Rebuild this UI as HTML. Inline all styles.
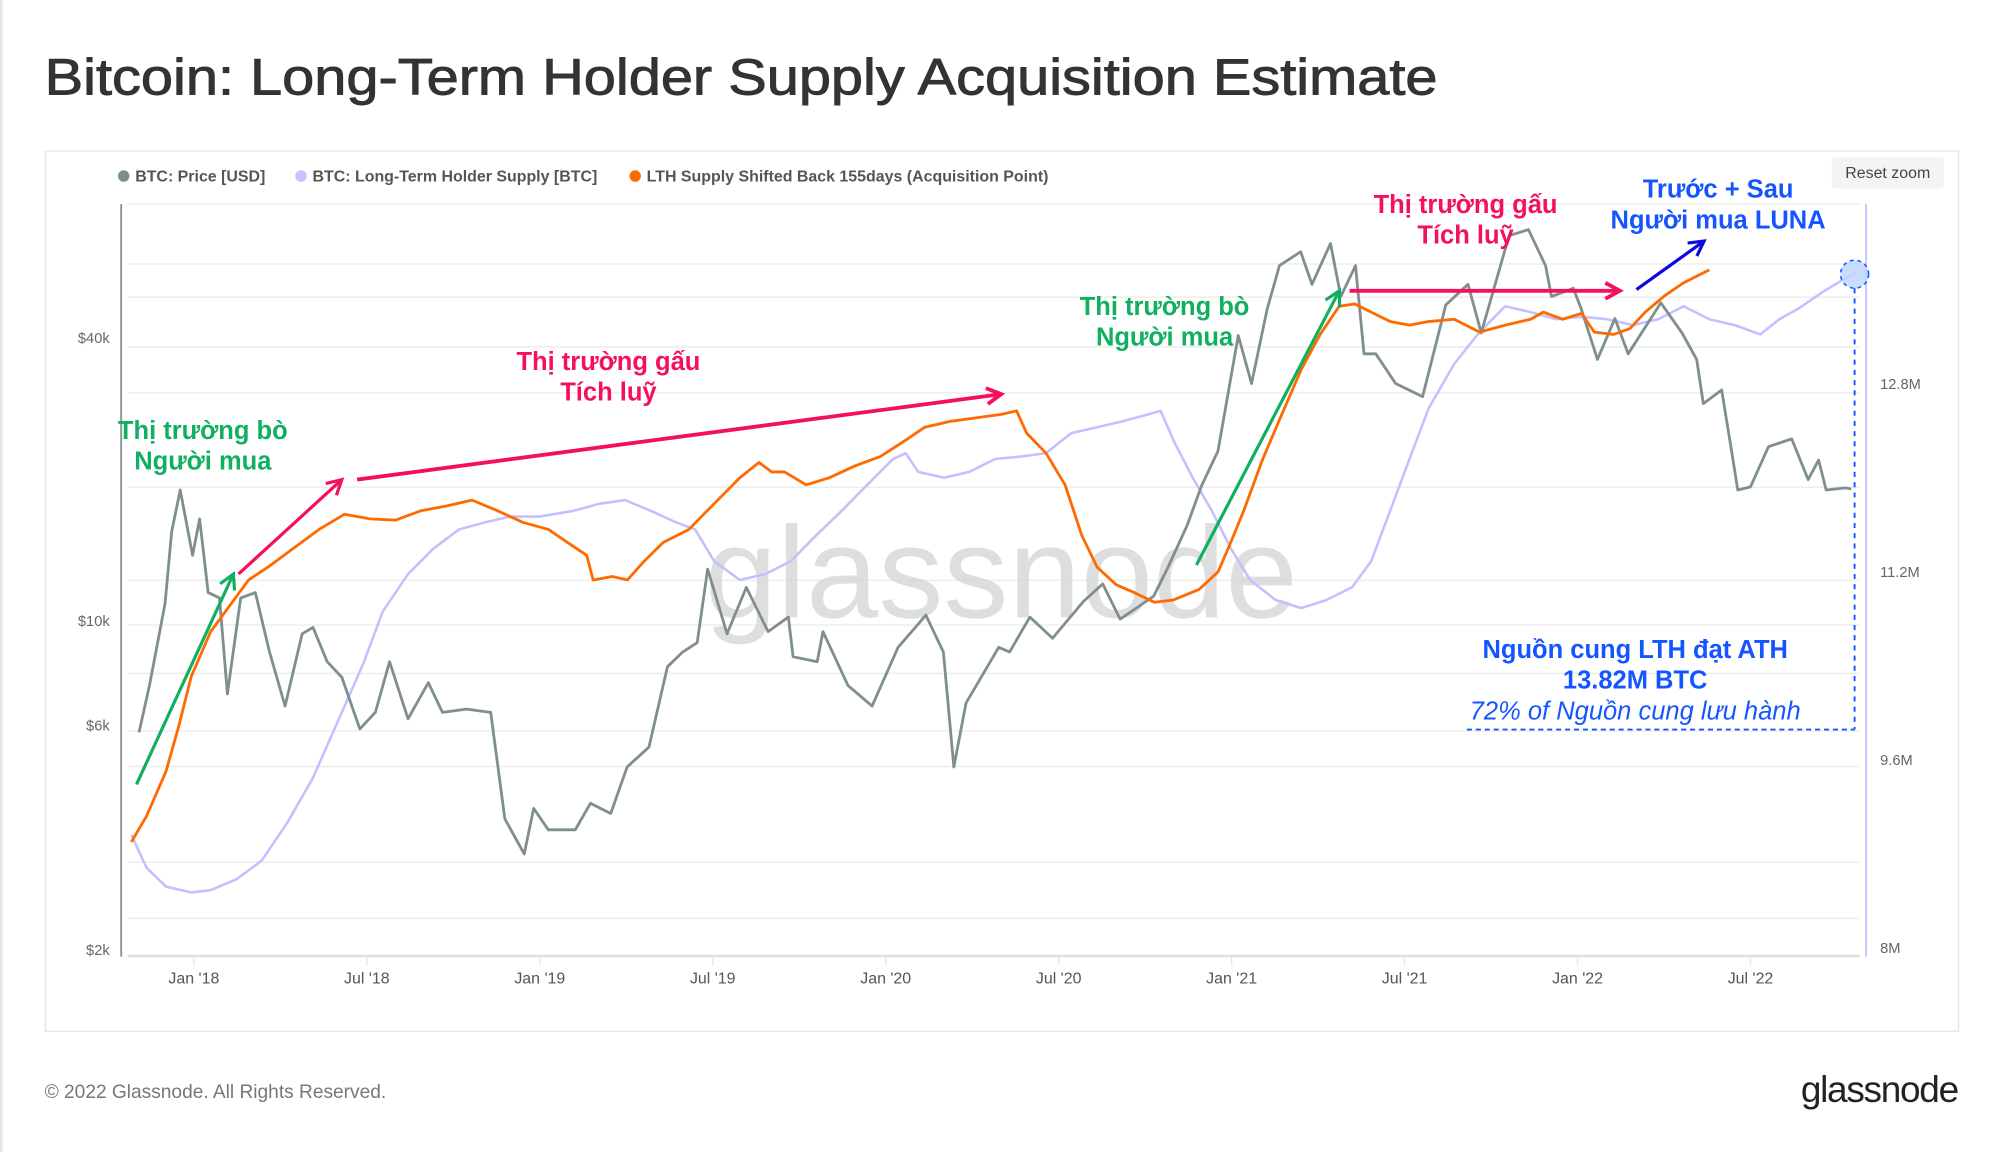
<!DOCTYPE html>
<html><head><meta charset="utf-8">
<style>
html,body{margin:0;padding:0;background:#fff;}
svg{display:block;font-family:"Liberation Sans","Noto Sans CJK SC",sans-serif;}
</style></head>
<body>
<svg id="chart" width="2000" height="1152" viewBox="0 0 1568 903.2" preserveAspectRatio="none">
  <line x1="1" y1="0" x2="1" y2="903" stroke="#e6e6e6" stroke-width="2"/>
  <text x="35" y="74" font-size="40" fill="#333" stroke="#333" stroke-width="0.7" textLength="1092" lengthAdjust="spacingAndGlyphs">Bitcoin: Long-Term Holder Supply Acquisition Estimate</text>
  <rect x="35.5" y="118.5" width="1500" height="690" fill="#fff" stroke="#e4e4e4"/>
  <g font-size="12.5" font-weight="bold" fill="#555">
    <g><circle cx="97" cy="138" r="4.5" fill="#7f8c8d"/><text x="106" y="142.5">BTC: Price [USD]</text></g>
    <g><circle cx="236" cy="138" r="4.5" fill="#c6c3ff"/><text x="245" y="142.5">BTC: Long-Term Holder Supply [BTC]</text></g>
    <g><circle cx="498" cy="138" r="4.5" fill="#ff6a00"/><text x="507" y="142.5">LTH Supply Shifted Back 155days (Acquisition Point)</text></g>
  </g>
  <g><rect x="1436" y="123" width="88" height="25" rx="3" fill="#f4f4f4"/><text x="1480" y="139.5" font-size="12.5" fill="#444" text-anchor="middle">Reset zoom</text></g>
  <g id="grid"></g>
  <text x="785" y="484" font-size="102" fill="#d6d6d6" text-anchor="middle" opacity="0.8">glassnode</text>
  <g id="axes"></g>
  <g id="series"></g>
  <g id="annot"></g>
  <text x="35" y="861" font-size="15" fill="#777">© 2022 Glassnode. All Rights Reserved.</text>
  <text x="1535" y="864" font-size="29" fill="#222" text-anchor="end" letter-spacing="-1">glassnode</text>
</svg>
<script>
const priceDates = ["2017-11-04","2017-11-15","2017-12-01","2017-12-08","2017-12-17","2017-12-30","2018-01-07","2018-01-16","2018-01-28","2018-02-06","2018-02-20","2018-03-05","2018-03-20","2018-04-06","2018-04-24","2018-05-05","2018-05-20","2018-06-05","2018-06-24","2018-07-10","2018-07-25","2018-08-14","2018-09-05","2018-09-20","2018-10-15","2018-11-10","2018-11-25","2018-12-15","2018-12-25","2019-01-10","2019-02-08","2019-02-24","2019-03-15","2019-04-02","2019-04-25","2019-05-14","2019-05-30","2019-06-15","2019-06-26","2019-07-16","2019-08-06","2019-08-29","2019-09-20","2019-09-25","2019-10-20","2019-10-26","2019-11-22","2019-12-17","2020-01-14","2020-02-13","2020-03-01","2020-03-12","2020-03-25","2020-04-29","2020-05-10","2020-06-01","2020-06-25","2020-07-27","2020-08-17","2020-09-05","2020-10-10","2020-10-25","2020-11-15","2020-11-30","2020-12-17","2021-01-08","2021-01-22","2021-02-08","2021-02-21","2021-03-13","2021-03-25","2021-04-14","2021-04-25","2021-05-10","2021-05-19","2021-06-01","2021-06-22","2021-07-20","2021-08-14","2021-09-07","2021-09-21","2021-10-20","2021-11-10","2021-11-28","2021-12-04","2021-12-27","2022-01-05","2022-01-22","2022-02-10","2022-02-24","2022-03-28","2022-04-20","2022-05-05","2022-05-12","2022-06-01","2022-06-13","2022-06-18","2022-07-01","2022-07-20","2022-08-14","2022-09-01","2022-09-12","2022-09-20","2022-10-10","2022-10-16"];
const priceValues = [5800,7300,10900,15500,19000,13800,16500,11500,11200,7000,11200,11500,8600,6600,9400,9700,8200,7600,5900,6400,8200,6200,7400,6400,6500,6400,3800,3200,4000,3600,3600,4100,3900,4900,5400,8000,8600,9000,12900,9400,11800,9500,10200,8400,8200,9500,7300,6600,8800,10300,8600,4900,6700,8800,8600,10200,9200,11000,12000,10100,11300,13000,16000,19400,23000,40500,32000,46000,57000,61000,52000,63500,49000,57000,37000,37000,32000,30000,47000,52000,41000,66000,68000,57000,49000,51000,46000,36000,44000,37000,47500,41000,36000,29000,31000,22000,19000,19300,23500,24400,20000,22000,19000,19200,19100];
const lthMonths = [-2.17,-1.64,-0.97,-0.09,0.58,1.46,2.35,3.23,4.12,5.0,5.88,6.55,7.43,8.32,9.2,10.09,10.97,11.99,13.19,14.07,14.96,15.84,16.73,17.39,18.05,18.94,19.82,20.71,21.59,22.48,23.36,24.25,24.69,25.13,26.02,26.9,27.79,28.67,29.56,30.44,31.33,32.21,33.1,33.54,33.98,34.65,35.31,35.97,36.64,37.52,38.41,39.29,40.18,40.84,41.5,42.17,42.83,43.72,44.6,45.49,46.37,47.26,48.14,49.03,49.91,50.8,51.68,52.57,53.45,54.34,55.0,55.66,56.55,57.65];
const lthValues = [8.96,8.68,8.52,8.47,8.49,8.58,8.74,9.06,9.44,9.93,10.42,10.86,11.18,11.40,11.56,11.62,11.67,11.67,11.72,11.78,11.81,11.72,11.62,11.56,11.29,11.13,11.18,11.29,11.51,11.72,11.94,12.16,12.21,12.05,12.0,12.05,12.16,12.18,12.21,12.38,12.43,12.48,12.54,12.57,12.32,12.0,11.72,11.40,11.13,10.96,10.89,10.96,11.07,11.29,11.72,12.16,12.59,12.97,13.24,13.46,13.41,13.35,13.37,13.35,13.30,13.35,13.46,13.35,13.30,13.22,13.35,13.44,13.59,13.75];
const acqMonths = [-2.17,-1.64,-0.97,-0.53,-0.09,0.58,1.24,1.9,2.57,3.45,4.34,5.22,6.11,6.99,7.88,8.76,9.65,10.53,11.42,12.3,12.96,13.63,13.85,14.51,15.04,15.62,16.28,17.17,18.05,18.94,19.6,20.04,20.49,21.24,22.04,22.92,23.81,24.69,25.35,26.24,27.12,28.01,28.54,28.89,29.56,30.22,30.8,31.33,31.99,32.65,33.32,33.98,34.87,35.53,35.97,36.42,37.08,37.74,38.41,39.07,39.73,40.27,40.84,41.5,42.17,42.83,43.72,44.6,45.49,46.37,46.81,47.48,48.14,48.58,49.25,49.82,50.35,51.02,51.68,52.57];
const acqValues = [8.90,9.12,9.50,9.88,10.31,10.69,10.91,11.13,11.24,11.40,11.56,11.69,11.65,11.64,11.72,11.76,11.81,11.72,11.62,11.56,11.45,11.34,11.13,11.16,11.13,11.29,11.45,11.56,11.78,12.0,12.13,12.05,12.05,11.94,12.0,12.10,12.18,12.32,12.43,12.48,12.51,12.54,12.57,12.38,12.21,11.94,11.51,11.24,11.09,11.02,10.94,10.96,11.05,11.20,11.45,11.72,12.16,12.54,12.92,13.22,13.46,13.48,13.41,13.33,13.30,13.33,13.35,13.24,13.30,13.35,13.41,13.35,13.40,13.24,13.22,13.27,13.41,13.55,13.66,13.77];
const xTickLabels = ["Jan '18","Jul '18","Jan '19","Jul '19","Jan '20","Jul '20","Jan '21","Jul '21","Jan '22","Jul '22"];
const xTickMonths = [0,6,12,18,24,30,36,42,48,54];
const leftTickLabels = ["$2k","$6k","$10k","$40k"];
const leftTickValues = [2000,6000,10000,40000];
const rightTickLabels = ["8M","9.6M","11.2M","12.8M"];
const rightTickValues = [8,9.6,11.2,12.8];

const NS = "http://www.w3.org/2000/svg";
function xScale(m){ return 152 + m*22.6; }
function yPrice(p){ return 487 - (Math.log10(p)-4)*368.8; }
function ySupply(v){ return 743 - (v-8)*92.1; }
function dateToMonths(s){ const [y,mo,d]=s.split("-").map(Number); return (y-2018)*12+(mo-1)+(d-1)/30.4; }
function mk(tag, attrs, parent){ const e=document.createElementNS(NS,tag); for(const k in attrs) e.setAttribute(k,attrs[k]); parent.appendChild(e); return e; }

const grid = document.getElementById("grid");
[160,207,233,272,308,382,455,490,528,573,601,676,720].forEach(y=>{
  const l = mk("line",{x1:100,x2:1458,y1:y,y2:y,stroke:"#eeeeee","stroke-width":1.2},grid);
  
  
});

const axes = document.getElementById("axes");


const la = mk("line",{x1:95,x2:95,y1:160,y2:750,stroke:"#8a9597","stroke-width":1.5},axes);


const ra = mk("line",{x1:1463,x2:1463,y1:160,y2:750,stroke:"#c6c3ff","stroke-width":1.5},axes);


const ba = mk("line",{x1:100,x2:1458,y1:749.5,y2:749.5,stroke:"#e0e0e0","stroke-width":2},axes);


xTickLabels.forEach((lab,i)=>{
  const x = xScale(xTickMonths[i]);
  const tk = mk("line",{x1:x,x2:x,y1:750,y2:757,stroke:"#e6e6e6"},axes);
  
  
  const t = mk("text",{x:x,y:771,"font-size":12.5,fill:"#555","text-anchor":"middle"},axes);
  t.textContent = lab;
  
  
});
leftTickLabels.forEach((lab,i)=>{
  const t = mk("text",{x:86,y:yPrice(leftTickValues[i])+4,"font-size":11.5,fill:"#666","text-anchor":"end"},axes);
  t.textContent = lab;
  
  
});
rightTickLabels.forEach((lab,i)=>{
  const t = mk("text",{x:1474,y:ySupply(rightTickValues[i])+4,"font-size":11.5,fill:"#666"},axes);
  t.textContent = lab;
  
  
});

const series = document.getElementById("series");
function pathFrom(xs, ys){ return xs.map((x,i)=>(i?"L":"M")+x.toFixed(1)+","+ys[i].toFixed(1)).join(""); }
const lthPath = mk("path",{d:pathFrom(lthMonths.map(xScale), lthValues.map(ySupply)),fill:"none",stroke:"#c3c0ff","stroke-width":2,"stroke-linejoin":"round"},series);


const pricePath = mk("path",{d:pathFrom(priceDates.map(d=>xScale(dateToMonths(d))), priceValues.map(yPrice)),fill:"none",stroke:"#7f8f8f","stroke-width":2.2,"stroke-linejoin":"round"},series);


const acqPath = mk("path",{d:pathFrom(acqMonths.map(xScale), acqValues.map(ySupply)),fill:"none",stroke:"#ff6a00","stroke-width":2.2,"stroke-linejoin":"round"},series);



const an = document.getElementById("annot");
function arrow(x1,y1,x2,y2,color,w,name){
  const g = mk("g",{},an);
  
  
  mk("line",{x1,y1,x2,y2,stroke:color,"stroke-width":w},g);
  const a=Math.atan2(y2-y1,x2-x1), L=13, s=0.5;
  const p1=[x2-L*Math.cos(a-s),y2-L*Math.sin(a-s)], p2=[x2-L*Math.cos(a+s),y2-L*Math.sin(a+s)];
  mk("polyline",{points:`${p1} ${x2},${y2} ${p2}`,fill:"none",stroke:color,"stroke-width":w},g);
}
function label(x,y,txt,color,name,extra){
  const t = mk("text",Object.assign({x,y,"font-size":20,"font-weight":"bold",fill:color,"text-anchor":"middle"},extra||{}),an);
  t.textContent = txt;
  
  
}
const G="#10b060", P="#f5105a", B="#1455ff";
arrow(107,615,183,450,G,2.5,"bull-arrow-2018");
arrow(187,450,268,376,P,2.5,"bear-arrow-2018-a");
arrow(280,376,785,309,P,3,"bear-arrow-2018-b");
arrow(938,443,1050,228,G,2.5,"bull-arrow-2021");
arrow(1058,228,1270,228,P,3,"bear-arrow-2021");
arrow(1283,227,1336,189,"#0a0ae0",2.5,"luna-arrow");
label(159,344,"Thị trường bò",G,"bull-label-2018");
label(159,368,"Người mua",G,"bull-sublabel-2018");
label(477,290,"Thị trường gấu",P,"bear-label-2018");
label(477,314,"Tích luỹ",P,"bear-sublabel-2018");
label(913,247,"Thị trường bò",G,"bull-label-2021");
label(913,271,"Người mua",G,"bull-sublabel-2021");
label(1149,167,"Thị trường gấu",P,"bear-label-2021");
label(1149,191,"Tích luỹ",P,"bear-sublabel-2021");
label(1347,155,"Trước + Sau",B,"luna-label");
label(1347,179,"Người mua LUNA",B,"luna-sublabel");
label(1282,516,"Nguồn cung LTH  đạt ATH",B,"ath-label");
label(1282,540,"13.82M BTC",B,"ath-value");
label(1282,564,"72% of Nguồn cung lưu hành",B,"ath-share",{"font-weight":"normal","font-style":"italic"});
const circ = mk("circle",{cx:1454,cy:215,r:11,fill:"#bcd4ff","fill-opacity":0.8,stroke:B,"stroke-dasharray":"3,3","stroke-width":1.2},an);


const vd = mk("line",{x1:1454,x2:1454,y1:226,y2:572,stroke:B,"stroke-width":1.5,"stroke-dasharray":"4,4"},an);


const hd = mk("line",{x1:1150,x2:1454,y1:572,y2:572,stroke:B,"stroke-width":1.5,"stroke-dasharray":"4,3"},an);


</script>
</body></html>
